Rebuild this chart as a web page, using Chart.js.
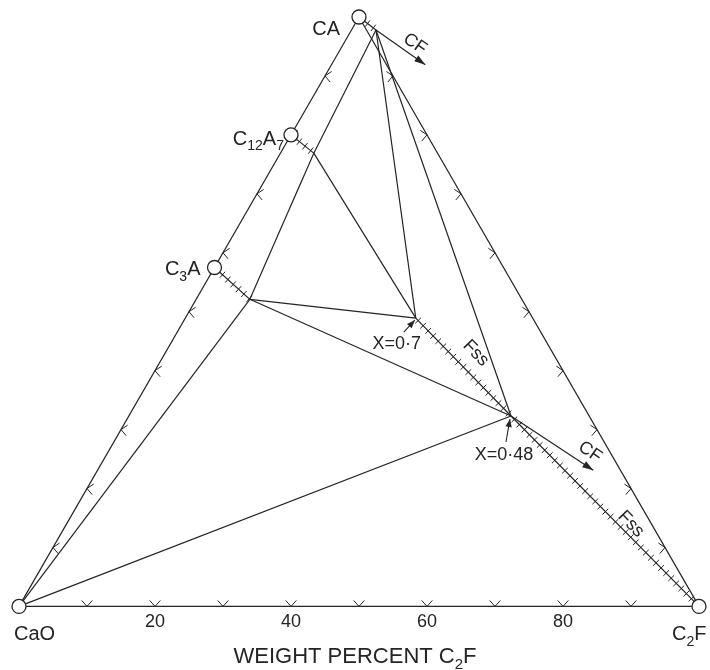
<!DOCTYPE html>
<html>
<head>
<meta charset="utf-8">
<script src="https://cdn.jsdelivr.net/npm/chart.js@4.4.1/dist/chart.umd.min.js"></script>
<style>
  html, body { margin: 0; padding: 0; background: #ffffff; }
  #wrap { width: 710px; height: 670px; }
</style>
</head>
<body>
<div id="wrap"><canvas id="c" width="710" height="670"></canvas></div>
<script>
// Phases of the CaO – CA – C2F system, weight percent [CA, C2F]; CaO makes up the rest
const phaseNames = ['CaO', 'C2F', 'CA', 'C12A7', 'C3A'];
const phaseCA    = [0, 0, 100, 80, 57.5];
const phaseC2F   = [0, 100, 0, 0, 0];

// Limits of the solid solutions (CA ss, C12A7 ss, C3A ss, ferrite X=0.7 and X=0.48)
const limitNames = ['CAss', 'C12A7ss', 'C3Ass', 'X07', 'X048'];
const limitCA    = [97.8, 76.9, 52.1, 48.9, 32.3];
const limitC2F   = [3.6, 4.9, 7.9, 33.9, 56.2];

// Tie lines and triangle edges
const tieLines = [
  ['CaO', 'C2F'], ['CaO', 'CA'], ['CA', 'C2F'],
  ['CaO', 'C3Ass'], ['CaO', 'X048'], ['C3Ass', 'X048'], ['C3Ass', 'X07'],
  ['C3Ass', 'C12A7ss'], ['C12A7ss', 'X07'], ['C12A7ss', 'CAss'],
  ['CAss', 'X07'], ['CAss', 'X048']
];
// Solid-solution ranges, drawn hatched
const ssRanges = [['C2F', 'X048'], ['X048', 'X07'], ['C3A', 'C3Ass'], ['C12A7', 'C12A7ss'], ['CA', 'CAss']];

// Arrows pointing towards CF (outside the triangle)
const cfArrowFrom  = ['CAss', 'X048'];
const cfArrowToCA  = [91.9, 23.1];
const cfArrowToC2F = [13.8, 72.9];

// Scale along the CaO – C2F base and the marks on every edge
const tickValues = [20, 40, 60, 80];
const edgeMarks  = [10, 20, 30, 40, 50, 60, 70, 80, 90];

const FONT = '"Liberation Sans", Arial, Helvetica, sans-serif';
const INK = '#242424';
const SQ3 = Math.sqrt(3);
const Y_MAX = 50 * SQ3;

// Ternary composition -> cartesian (x along the base, y towards CA)
function tern(ca, c2f) { return { x: c2f + ca / 2, y: ca * SQ3 / 2 }; }

const P = {};
phaseNames.forEach((n, i) => { P[n] = tern(phaseCA[i], phaseC2F[i]); });
limitNames.forEach((n, i) => { P[n] = tern(limitCA[i], limitC2F[i]); });

const cfTips = cfArrowFrom.map((n, i) => ({ from: P[n], to: tern(cfArrowToCA[i], cfArrowToC2F[i]) }));

// Text placed around the diagram (offsets in px from a named point)
const labelDefs = [
  { text: 'CA',          at: 'CA',    dx: -19, dy: 18, size: 20, align: 'right' },
  { text: 'C{12}A{7}',   at: 'C12A7', dx: -7,  dy: 10, size: 20, align: 'right' },
  { text: 'C{3}A',       at: 'C3A',   dx: -14, dy: 8,  size: 20, align: 'right' },
  { text: 'CaO',         at: 'CaO',   dx: -5,  dy: 34, size: 20, align: 'left' },
  { text: 'C{2}F',       at: 'C2F',   dx: -27, dy: 34, size: 20, align: 'left' },
  { text: 'X=0·7',       at: 'X07',   dx: -19, dy: 31, size: 18, align: 'center' },
  { text: 'X=0·48',      at: 'X048',  dx: -7,  dy: 44, size: 18, align: 'center' }
];
const rotatedLabels = [
  { text: 'Fss', at: 'X07',  dx: 60,  dy: 35,  size: 18, angle: 46 },
  { text: 'Fss', at: 'X048', dx: 120, dy: 108, size: 18, angle: 46 },
  { text: 'CF',  at: 'CAss', dx: 39,  dy: 14,  size: 18, angle: 35 },
  { text: 'CF',  at: 'X048', dx: 79,  dy: 36,  size: 18, angle: 35 }
];
const pointerArrows = [
  { at: 'X07',  fx: -12, fy: 14, tx: -1, ty: 2 },
  { at: 'X048', fx: -5,  fy: 26, tx: -1, ty: 3 }
];

// Edges carrying scale marks, with the screen direction (deg, y up) the marks open towards
const markedEdges = [
  { from: 'CaO', to: 'C2F', open: 90 },
  { from: 'CaO', to: 'CA',  open: -8 },
  { from: 'CA',  to: 'C2F', open: 188 }
];

function drawRich(ctx, str, x, y, size, align) {
  const parts = [];
  const re = /([^{]+)|\{([^}]*)\}/g;
  let m;
  while ((m = re.exec(str))) parts.push(m[1] !== undefined ? { t: m[1], sub: false } : { t: m[2], sub: true });
  const subSize = Math.round(size * 0.68);
  let w = 0;
  parts.forEach(p => { ctx.font = (p.sub ? subSize : size) + 'px ' + FONT; p.w = ctx.measureText(p.t).width; w += p.w; });
  let cx = align === 'right' ? x - w : align === 'center' ? x - w / 2 : x;
  ctx.textAlign = 'left';
  ctx.textBaseline = 'alphabetic';
  parts.forEach(p => {
    ctx.font = (p.sub ? subSize : size) + 'px ' + FONT;
    ctx.fillText(p.t, cx, p.sub ? y + size * 0.28 : y);
    cx += p.w;
  });
}

function px(chart, pt) {
  return { x: chart.scales.x.getPixelForValue(pt.x), y: chart.scales.y.getPixelForValue(pt.y) };
}

function arrowHead(ctx, a, b, len, half) {
  const dx = b.x - a.x, dy = b.y - a.y, L = Math.hypot(dx, dy);
  const ux = dx / L, uy = dy / L;
  ctx.beginPath();
  ctx.moveTo(b.x, b.y);
  ctx.lineTo(b.x - ux * len - uy * half, b.y - uy * len + ux * half);
  ctx.lineTo(b.x - ux * len + uy * half, b.y - uy * len - ux * half);
  ctx.closePath();
  ctx.fill();
}

// Hatching of solid-solution ranges and the chevron marks on the edges
const underlayPlugin = {
  id: 'underlay',
  beforeDatasetsDraw(chart) {
    const ctx = chart.ctx;
    ctx.save();
    ctx.strokeStyle = INK;
    ctx.lineWidth = 1;
    ssRanges.forEach(([a, b]) => {
      const pa = px(chart, P[a]), pb = px(chart, P[b]);
      const dx = pb.x - pa.x, dy = pb.y - pa.y, L = Math.hypot(dx, dy);
      const ux = dx / L, uy = dy / L, nx = -uy, ny = ux;
      const step = 7.2;
      ctx.beginPath();
      for (let s = step / 2; s < L; s += step) {
        const cx = pa.x + ux * s, cy = pa.y + uy * s;
        ctx.moveTo(cx + nx * 4, cy + ny * 4);
        ctx.lineTo(cx - nx * 4, cy - ny * 4);
      }
      ctx.stroke();
    });
    markedEdges.forEach(e => {
      const pa = px(chart, P[e.from]), pb = px(chart, P[e.to]);
      const dx = pb.x - pa.x, dy = pb.y - pa.y;
      const half = 0.73, len = 8, rad = e.open * Math.PI / 180;
      const a1 = { x: Math.cos(rad + half), y: -Math.sin(rad + half) };
      const a2 = { x: Math.cos(rad - half), y: -Math.sin(rad - half) };
      ctx.beginPath();
      edgeMarks.forEach(v => {
        const cx = pa.x + dx * v / 100, cy = pa.y + dy * v / 100;
        ctx.moveTo(cx + a1.x * len, cy + a1.y * len);
        ctx.lineTo(cx, cy);
        ctx.lineTo(cx + a2.x * len, cy + a2.y * len);
      });
      ctx.stroke();
    });
    ctx.restore();
  },
  afterDatasetsDraw(chart) {
    const ctx = chart.ctx;
    ctx.save();
    ctx.fillStyle = INK;
    ctx.strokeStyle = INK;
    cfTips.forEach(t => arrowHead(ctx, px(chart, t.from), px(chart, t.to), 11, 3.6));
    pointerArrows.forEach(a => {
      const base = px(chart, P[a.at]);
      const f = { x: base.x + a.fx, y: base.y + a.fy }, t = { x: base.x + a.tx, y: base.y + a.ty };
      ctx.lineWidth = 1.1;
      ctx.beginPath(); ctx.moveTo(f.x, f.y); ctx.lineTo(t.x, t.y); ctx.stroke();
      arrowHead(ctx, f, t, 8, 3.2);
    });
    labelDefs.forEach(l => {
      const p = px(chart, P[l.at]);
      drawRich(ctx, l.text, p.x + l.dx, p.y + l.dy, l.size, l.align);
    });
    rotatedLabels.forEach(l => {
      const p = px(chart, P[l.at]);
      ctx.save();
      ctx.translate(p.x + l.dx, p.y + l.dy);
      ctx.rotate(l.angle * Math.PI / 180);
      ctx.font = l.size + 'px ' + FONT;
      ctx.textAlign = 'center';
      ctx.textBaseline = 'middle';
      ctx.fillText(l.text, 0, 0);
      ctx.restore();
    });
    // axis title under the base
    const xs = chart.scales.x;
    drawRich(ctx, 'WEIGHT PERCENT C{2}F', (xs.left + xs.right) / 2 - 4, 663, 22, 'center');
    ctx.restore();
  }
};

const datasets = [];
datasets.push({
  label: 'phases',
  data: phaseNames.map(n => P[n]),
  pointRadius: 7,
  pointBackgroundColor: '#ffffff',
  pointBorderColor: INK,
  pointBorderWidth: 1.3,
  showLine: false,
  clip: false,
  order: 0
});
tieLines.concat(ssRanges).forEach(([a, b]) => {
  datasets.push({
    label: a + '-' + b,
    data: [P[a], P[b]],
    showLine: true,
    borderColor: INK,
    borderWidth: 1.2,
    pointRadius: 0,
    clip: false,
    order: 2
  });
});
cfTips.forEach((t, i) => {
  datasets.push({
    label: 'CF' + i,
    data: [t.from, t.to],
    showLine: true,
    borderColor: INK,
    borderWidth: 1.2,
    pointRadius: 0,
    clip: false,
    order: 2
  });
});

new Chart(document.getElementById('c'), {
  type: 'scatter',
  data: { datasets },
  plugins: [underlayPlugin],
  options: {
    responsive: false,
    animation: false,
    layout: { padding: { left: 19, right: 11, top: 17, bottom: 32 } },
    plugins: { legend: { display: false }, tooltip: { enabled: false } },
    scales: {
      x: {
        type: 'linear', min: 0, max: 100,
        grid: { display: false, drawTicks: false },
        border: { display: false },
        afterBuildTicks: s => { s.ticks = tickValues.map(v => ({ value: v })); },
        ticks: { font: { family: FONT, size: 18 }, color: INK, padding: 5, maxRotation: 0, autoSkip: false }
      },
      y: { type: 'linear', min: 0, max: Y_MAX, display: false }
    }
  }
});
</script>
</body>
</html>
